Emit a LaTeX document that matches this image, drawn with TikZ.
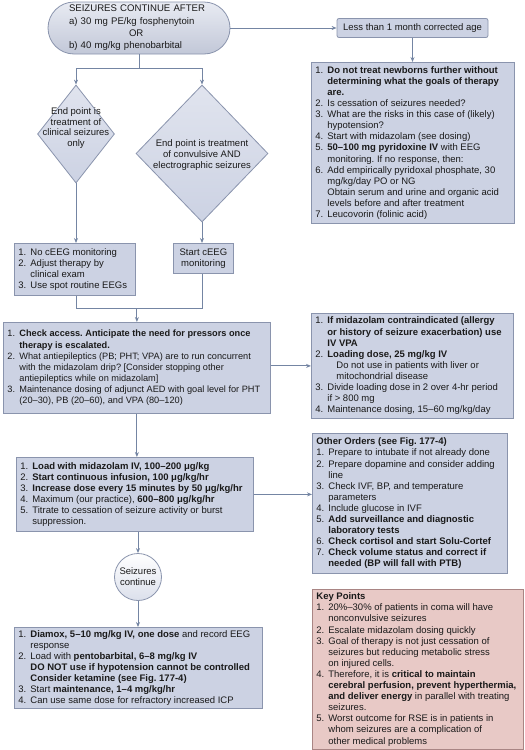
\documentclass[tikz,border=0pt]{standalone}
\usepackage{fontspec}
\setmainfont{Liberation Sans}
\usetikzlibrary{shapes.geometric,arrows.meta}
\definecolor{boxc}{HTML}{CCD2E3}
\definecolor{bordc}{HTML}{8A94AD}
\definecolor{linec}{HTML}{7485A3}
\definecolor{keyc}{HTML}{E8C9C6}
\definecolor{keyb}{HTML}{A98584}
\definecolor{txtc}{HTML}{1A1A1A}
\frenchspacing
\newcommand{\fs}{\fontsize{9.5}{11.1}\selectfont\frenchspacing}
\newcommand{\fss}{\fontsize{9.2}{11.1}\selectfont\frenchspacing}
\newdimen\ListLineW
\newcommand{\ListLine}[2]{\hbox to \ListLineW{\hbox to 12pt{#1\hss}#2\hss}}
\newcommand{\ListHead}[1]{\hbox to \ListLineW{\textbf{#1}\hss}}
\newcommand{\ListBlock}[2]{\vbox{\ListLineW=#1\relax #2}}
\tikzset{
  box/.style={draw=bordc, fill=boxc, line width=0.8pt, anchor=north west,
    inner xsep=4pt, inner ysep=2pt, font=\fs, text=txtc},
  dia/.style={diamond, draw=bordc, line width=0.8pt, top color=boxc!60!white, bottom color=boxc, inner sep=0pt},
  arr/.style={-{Stealth[length=5pt,width=4pt]}, draw=linec, line width=0.9pt},
  ln/.style={draw=linec, line width=0.9pt},
  ctext/.style={align=center, font=\fs, text=txtc}
}
\begin{document}
\begin{tikzpicture}[x=1pt,y=-1pt]
\useasboundingbox (0,0) rectangle (525,750);

% start stadium
\node[draw=bordc, line width=0.8pt, rounded corners=26pt, top color=boxc!45!white, bottom color=boxc!95!black,
  minimum width=182pt, minimum height=52pt, text width=140pt, align=left, inner sep=0pt,
  font=\fontsize{9.6}{12.3}\selectfont, text=txtc] (start) at (139,28)
  {SEIZURES CONTINUE AFTER\\a) 30 mg PE/kg fosphenytoin\\\hspace*{60pt}OR\\b) 40 mg/kg phenobarbital};

\node[box, rounded corners=2pt, anchor=center, minimum width=151pt, minimum height=19pt, inner sep=0pt] (less) at (412.5,28)
  {Less than 1 month corrected age};

\node[box, minimum width=203pt, minimum height=161pt] (newborn) at (311,62) {\ListBlock{195pt}{%
\ListLine{1.}{\textbf{Do not treat newborns further without}}%
\ListLine{}{\textbf{determining what the goals of therapy}}%
\ListLine{}{\textbf{are.}}%
\ListLine{2.}{Is cessation of seizures needed?}%
\ListLine{3.}{What are the risks in this case of (likely)}%
\ListLine{}{hypotension?}%
\ListLine{4.}{Start with midazolam (see dosing)}%
\ListLine{5.}{\textbf{50--100 mg pyridoxine IV} with EEG}%
\ListLine{}{monitoring. If no response, then:}%
\ListLine{6.}{Add empirically pyridoxal phosphate, 30}%
\ListLine{}{mg/kg/day PO or NG}%
\ListLine{}{Obtain serum and urine and organic acid}%
\ListLine{}{levels before and after treatment}%
\ListLine{7.}{Leucovorin (folinic acid)}}};

% diamonds
\node[dia, minimum width=77pt, minimum height=98pt] (d1) at (76,134) {};
\node[ctext, font=\fontsize{9.5}{10.5}\selectfont] (d1t) at (76,128) {End point is\\treatment of\\clinical seizures\\only};
\node[dia, minimum width=132pt, minimum height=137pt] (d2) at (202,153.5) {};
\node[ctext] (d2t) at (202,155) {End point is treatment\\of convulsive AND\\electrographic seizures};

\node[box, minimum width=121pt, minimum height=52pt] (nocEEG) at (14,243) {\ListBlock{113pt}{%
\ListLine{1.}{No cEEG monitoring}%
\ListLine{2.}{Adjust therapy by}%
\ListLine{}{clinical exam}%
\ListLine{3.}{Use spot routine EEGs}}};

\node[box, minimum width=60pt, minimum height=30pt, align=center, inner xsep=0pt] (startc) at (173,243) {Start cEEG\\monitoring};

\node[box, font=\fss, minimum width=267pt, minimum height=91pt] (access) at (3,322) {\ListBlock{259pt}{%
\ListLine{1.}{\textbf{Check access. Anticipate the need for pressors once}}%
\ListLine{}{\textbf{therapy is escalated.}}%
\ListLine{2.}{What antiepileptics (PB; PHT; VPA) are to run concurrent}%
\ListLine{}{with the midazolam drip? [Consider stopping other}%
\ListLine{}{antiepileptics while on midazolam]}%
\ListLine{3.}{Maintenance dosing of adjunct AED with goal level for PHT}%
\ListLine{}{(20--30), PB (20--60), and VPA (80--120)}}};

\node[box, minimum width=202pt, minimum height=105pt] (vpa) at (311,313) {\ListBlock{194pt}{%
\ListLine{1.}{\textbf{If midazolam contraindicated (allergy}}%
\ListLine{}{\textbf{or history of seizure exacerbation) use}}%
\ListLine{}{\textbf{IV VPA}}%
\ListLine{2.}{\textbf{Loading dose, 25 mg/kg IV}}%
\ListLine{}{\hskip9pt Do not use in patients with liver or}%
\ListLine{}{\hskip9pt mitochondrial disease}%
\ListLine{3.}{Divide loading dose in 2 over 4-hr period}%
\ListLine{}{if > 800 mg}%
\ListLine{4.}{Maintenance dosing, 15--60 mg/kg/day}}};

\node[box, minimum width=237pt, minimum height=74pt] (load) at (16,457) {\ListBlock{229pt}{%
\ListLine{1.}{\textbf{Load with midazolam IV, 100--200 μg/kg}}%
\ListLine{2.}{\textbf{Start continuous infusion, 100 μg/kg/hr}}%
\ListLine{3.}{\textbf{Increase dose every 15 minutes by 50 μg/kg/hr}}%
\ListLine{4.}{Maximum (our practice), \textbf{600--800 μg/kg/hr}}%
\ListLine{5.}{Titrate to cessation of seizure activity or burst}%
\ListLine{}{suppression.}}};

\node[box, minimum width=195pt, minimum height=140pt] (other) at (312,433) {\ListBlock{187pt}{%
\ListHead{Other Orders (see Fig. 177-4)}%
\ListLine{1.}{Prepare to intubate if not already done}%
\ListLine{2.}{Prepare dopamine and consider adding}%
\ListLine{}{line}%
\ListLine{3.}{Check IVF, BP, and temperature}%
\ListLine{}{parameters}%
\ListLine{4.}{Include glucose in IVF}%
\ListLine{5.}{\textbf{Add surveillance and diagnostic}}%
\ListLine{}{\textbf{laboratory tests}}%
\ListLine{6.}{\textbf{Check cortisol and start Solu-Cortef}}%
\ListLine{7.}{\textbf{Check volume status and correct if}}%
\ListLine{}{\textbf{needed (BP will fall with PTB)}}}};

\node[circle, draw=bordc, line width=0.8pt, top color=white, bottom color=boxc!70!white, minimum size=47pt, inner sep=0pt,
  ctext] (sc) at (138,577) {Seizures\\continue};

\node[box, minimum width=248pt, minimum height=81pt] (final) at (14,627) {\ListBlock{240pt}{%
\ListLine{1.}{\textbf{Diamox, 5--10 mg/kg IV, one dose} and record EEG}%
\ListLine{}{response}%
\ListLine{2.}{Load with \textbf{pentobarbital, 6--8 mg/kg IV}}%
\ListLine{}{\textbf{DO NOT use if hypotension cannot be controlled}}%
\ListLine{}{\textbf{Consider ketamine (see Fig. 177-4)}}%
\ListLine{3.}{Start \textbf{maintenance, 1--4 mg/kg/hr}}%
\ListLine{4.}{Can use same dose for refractory increased ICP}}};

\node[box, draw=keyb, fill=keyc, minimum width=211pt, minimum height=160pt] (key) at (312,589) {\ListBlock{203pt}{%
\ListHead{Key Points}%
\ListLine{1.}{20\%--30\% of patients in coma will have}%
\ListLine{}{nonconvulsive seizures}%
\ListLine{2.}{Escalate midazolam dosing quickly}%
\ListLine{3.}{Goal of therapy is not just cessation of}%
\ListLine{}{seizures but reducing metabolic stress}%
\ListLine{}{on injured cells.}%
\ListLine{4.}{Therefore, it is \textbf{critical to maintain}}%
\ListLine{}{\textbf{cerebral perfusion, prevent hyperthermia,}}%
\ListLine{}{\textbf{and deliver energy} in parallel with treating}%
\ListLine{}{seizures.}%
\ListLine{5.}{Worst outcome for RSE is in patients in}%
\ListLine{}{whom seizures are a complication of}%
\ListLine{}{other medical problems}}};

% connectors
\draw[arr] (start.east) -- (less.west);
\draw[arr] (less.south) -- (less.south |- newborn.north);
\draw[ln] (start.south) -- ++(0,14) coordinate (split);
\draw[arr] (split) -| (d1.north);
\draw[arr] (split) -| (d2.north);
\draw[arr] (d1.south) -- (d1.south |- nocEEG.north);
\draw[arr] (d2.south) -- (d2.south |- startc.north);
\draw[ln] (nocEEG.south -| d1.south) -- ++(0,13) coordinate (jl) -| (startc.south -| d2.south);
\coordinate (j) at (access.north |- jl);
\draw[arr] (j) -- (access.north);
\draw[arr] (access.east |- vpa.west) -- (vpa.west);
\draw[arr] (access.south) -- (access.south |- load.north);
\draw[arr] (load.east) -- (load.east -| other.west);
\draw[arr] (load.south -| sc.north) -- (sc.north);
\draw[arr] (sc.south) -- (sc.south |- final.north);
\end{tikzpicture}
\end{document}
